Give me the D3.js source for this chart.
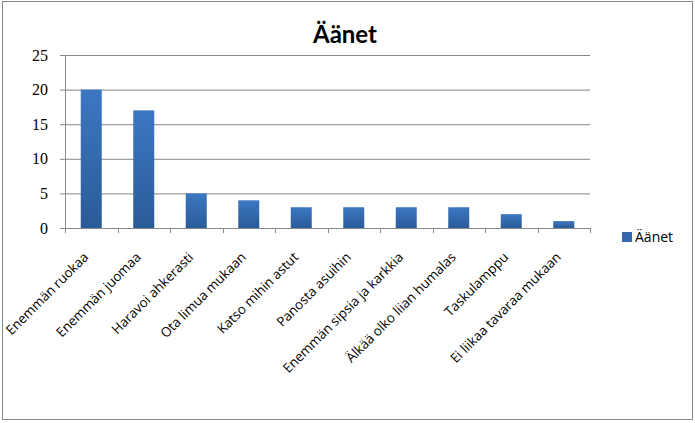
<!DOCTYPE html>
<html>
<head>
<meta charset="utf-8">
<script src="https://cdn.jsdelivr.net/npm/d3@7"></script>
<style>
  body { margin: 0; background: #fff; }
</style>
</head>
<body>
<div id="chart"></div>
<script>
let categories = ['Enemmän ruokaa', 'Enemmän juomaa', 'Haravoi ahkerasti', 'Ota limua mukaan', 'Katso mihin astut',
  'Panosta asuihin', 'Enemmän sipsia ja karkkia', 'Älkää olko liian humalas', 'Taskulamppu', 'Ei liikaa tavaraa mukaan']
let votes = [20, 17, 5, 4, 3, 3, 3, 3, 2, 1]
let yTicks = [0, 5, 10, 15, 20, 25]
let seriesName = 'Äänet'

let margin = { top: 55, left: 65, right: 105, bottom: 195 }
let width = 695 - margin.left - margin.right
let height = 423 - margin.top - margin.bottom

let root = d3.select('#chart').append('svg')
  .attr('width', 695)
  .attr('height', 423)

// outer frame
root.append('rect')
  .attr('x', 2.5).attr('y', 1.5)
  .attr('width', 690).attr('height', 418)
  .attr('fill', '#fff')
  .attr('stroke', '#888')

let defs = root.append('defs')
let grad = defs.append('linearGradient')
  .attr('id', 'barGrad')
  .attr('x1', 0).attr('y1', 0).attr('x2', 0).attr('y2', 1)
grad.append('stop').attr('offset', '0%').attr('stop-color', '#3d77c2')
grad.append('stop').attr('offset', '100%').attr('stop-color', '#2a5b98')

root.append('text')
  .text(seriesName)
  .attr('x', 345)
  .attr('y', 43)
  .attr('text-anchor', 'middle')
  .attr('font-family', 'Lato, sans-serif')
  .attr('font-weight', 'bold')
  .attr('font-size', 24)

let svg = root.append('g')
  .attr('transform', `translate(${margin.left},${margin.top})`)

let x = d3.scaleBand().domain(categories).range([0, width]).paddingInner(0.6).paddingOuter(0.3)
let xTickScale = d3.scaleLinear().domain([0, categories.length]).range([0, width])
let y = d3.scaleLinear().domain([0, 25]).range([height, 0])

// gridlines
svg.selectAll('.grid')
  .data(yTicks.filter(d => d > 0))
  .enter()
  .append('line')
  .attr('x1', 0).attr('x2', width)
  .attr('y1', d => y(d) + 0.5).attr('y2', d => y(d) + 0.5)
  .attr('stroke', '#878787')

// y axis
let yAxis = svg.append('g')
  .call(d3.axisLeft(y).tickValues(yTicks).tickSize(5).tickPadding(12))
yAxis.select('.domain').attr('stroke', '#878787')
yAxis.selectAll('line').attr('stroke', '#878787')
yAxis.selectAll('text')
  .attr('font-family', '"Liberation Serif", serif')
  .attr('font-size', 16)
  .attr('fill', '#000')

svg.selectAll('.bar')
  .data(votes)
  .enter()
  .append('rect')
  .attr('class', 'bar')
  .attr('x', (d, i) => x(categories[i]))
  .attr('y', d => y(d))
  .attr('width', x.bandwidth())
  .attr('height', d => height - y(d))
  .attr('fill', 'url(#barGrad)')

// x axis line and ticks
svg.append('line')
  .attr('x1', 0).attr('x2', width)
  .attr('y1', height + 0.5).attr('y2', height + 0.5)
  .attr('stroke', '#878787')
svg.selectAll('.xtick')
  .data(d3.range(categories.length + 1))
  .enter()
  .append('line')
  .attr('x1', d => Math.round(xTickScale(d)) + 0.5)
  .attr('x2', d => Math.round(xTickScale(d)) + 0.5)
  .attr('y1', height).attr('y2', height + 5)
  .attr('stroke', '#878787')

svg.selectAll('.xlabel')
  .data(categories)
  .enter()
  .append('text')
  .text(d => d)
  .attr('text-anchor', 'end')
  .attr('font-family', '"Open Sans", sans-serif')
  .attr('font-size', 13.3)
  .attr('transform', d => `translate(${x(d) + x.bandwidth() / 2 - 2},${height + 30}) rotate(-45)`)

// legend
let legend = root.append('g').attr('transform', 'translate(622,232)')
legend.append('rect')
  .attr('width', 10).attr('height', 10)
  .attr('fill', '#3569ad')
legend.append('text')
  .text(seriesName)
  .attr('x', 13).attr('y', 10)
  .attr('font-family', '"Open Sans", sans-serif')
  .attr('font-size', 14)
</script>
</body>
</html>
